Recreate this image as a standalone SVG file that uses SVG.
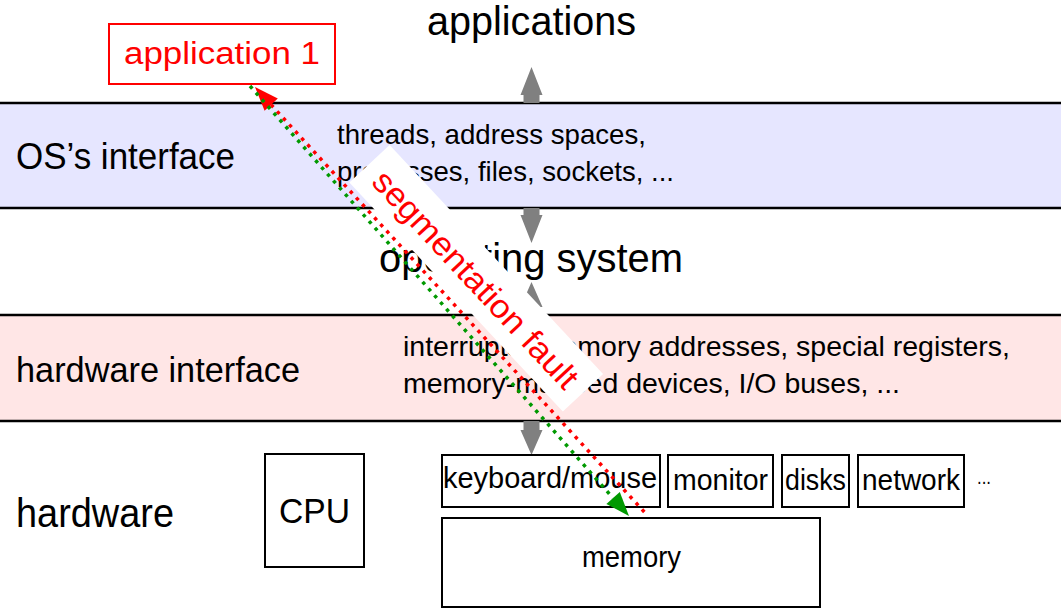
<svg xmlns="http://www.w3.org/2000/svg" width="1061" height="609" viewBox="0 0 1061 609">
<defs>
<style>
.t{font-family:"Liberation Sans",Arial,sans-serif;fill:#000}
.r{fill:#ff0000}
.box{fill:#fff;stroke:#000;stroke-width:2}
.bl{stroke:#000;stroke-width:2.5}
.ga{fill:#808080}
.dr{fill:none;stroke:#ff0000;stroke-width:3.5;stroke-dasharray:3.5 5.5}
.dg{fill:none;stroke:#009900;stroke-width:3.5;stroke-dasharray:3.5 5.5}
</style>
</defs>
<g id="bands">
<rect x="0" y="103" width="1061" height="105" fill="#e6e6ff"/>
<rect x="0" y="315" width="1061" height="106" fill="#ffe6e6"/>
<line class="bl" x1="0" y1="103" x2="1061" y2="103"/>
<line class="bl" x1="0" y1="208" x2="1061" y2="208"/>
<line class="bl" x1="0" y1="315" x2="1061" y2="315"/>
<line class="bl" x1="0" y1="421" x2="1061" y2="421"/>
</g>
<g id="labels">
<text class="t" x="427" y="35" font-size="40" textLength="209" lengthAdjust="spacingAndGlyphs">applications</text>
<text class="t" x="379" y="272" font-size="41" textLength="304" lengthAdjust="spacingAndGlyphs">operating system</text>
<text class="t" x="16" y="169" font-size="36" textLength="219" lengthAdjust="spacingAndGlyphs">OS’s interface</text>
<text class="t" x="16" y="382" font-size="35" textLength="284" lengthAdjust="spacingAndGlyphs">hardware interface</text>
<text class="t" x="16" y="527" font-size="41" textLength="158" lengthAdjust="spacingAndGlyphs">hardware</text>
<text class="t" x="337" y="144" font-size="28" textLength="309" lengthAdjust="spacingAndGlyphs">threads, address spaces,</text>
<text class="t" x="337" y="181" font-size="28" textLength="337" lengthAdjust="spacingAndGlyphs">processes, files, sockets, ...</text>
<text class="t" x="403" y="356" font-size="28" textLength="607" lengthAdjust="spacingAndGlyphs">interrupts, memory addresses, special registers,</text>
<text class="t" x="403" y="393" font-size="28" textLength="497" lengthAdjust="spacingAndGlyphs">memory-mapped devices, I/O buses, ...</text>
</g>
<g id="arrows">
<polygon class="ga" points="531.5,67 542.5,95 539.5,95 539.5,103 523.5,103 523.5,95 520.5,95"/>
<polygon class="ga" points="523.5,208 539.5,208 539.5,215 542.5,215 531.5,243 520.5,215 523.5,215"/>
<polygon class="ga" points="531.5,282 542.5,307 539.5,307 539.5,315 523.5,315 523.5,307 520.5,307"/>
<polygon class="ga" points="523.5,421 539.5,421 539.5,430 542.5,430 531.5,455 520.5,430 523.5,430"/>
</g>
<g id="app1">
<rect x="109" y="24" width="226" height="60" fill="#fff" stroke="#ff0000" stroke-width="2"/>
<text class="t r" x="124" y="64" font-size="31" textLength="196" lengthAdjust="spacingAndGlyphs">application 1</text>
</g>
<g id="cpu">
<rect class="box" x="265" y="454" width="99" height="113"/>
<text class="t" x="279" y="523" font-size="35" textLength="71" lengthAdjust="spacingAndGlyphs">CPU</text>
</g>
<g id="keyboard">
<rect class="box" x="442" y="455" width="218" height="52"/>
<text class="t" x="443" y="488" font-size="30" textLength="214" lengthAdjust="spacingAndGlyphs">keyboard/mouse</text>
</g>
<g id="monitor">
<rect class="box" x="668" y="455" width="105" height="52"/>
<text class="t" x="673" y="490" font-size="30" textLength="95" lengthAdjust="spacingAndGlyphs">monitor</text>
</g>
<g id="disks">
<rect class="box" x="782" y="455" width="67" height="52"/>
<text class="t" x="785" y="490" font-size="30" textLength="61" lengthAdjust="spacingAndGlyphs">disks</text>
</g>
<g id="network">
<rect class="box" x="858" y="455" width="106" height="52"/>
<text class="t" x="862" y="490" font-size="30" textLength="98" lengthAdjust="spacingAndGlyphs">network</text>
</g>
<g id="more">
<text class="t" x="977" y="484" font-size="20" textLength="14" lengthAdjust="spacingAndGlyphs">...</text>
</g>
<g id="memory">
<rect class="box" x="442" y="518" width="378" height="89"/>
<text class="t" x="582" y="567" font-size="30" textLength="99" lengthAdjust="spacingAndGlyphs">memory</text>
</g>
<g id="connectors">
<line class="dr" x1="271" y1="104.7" x2="648" y2="516"/>
<polygon fill="#ff0000" points="255,87 277.8,98.6 264.6,110.8"/>
<line class="dg" x1="250" y1="86" x2="613" y2="498"/>
<polygon fill="#009900" points="629,516 606.4,503.9 619.8,492.1"/>
</g>
<g id="segfault" transform="translate(474,281) rotate(47)">
<rect x="-157" y="-31" width="313" height="55" fill="#fff"/>
<text class="t r" x="0" y="9" font-size="33" text-anchor="middle" textLength="285" lengthAdjust="spacingAndGlyphs">segmentation fault</text>
</g>
</svg>
